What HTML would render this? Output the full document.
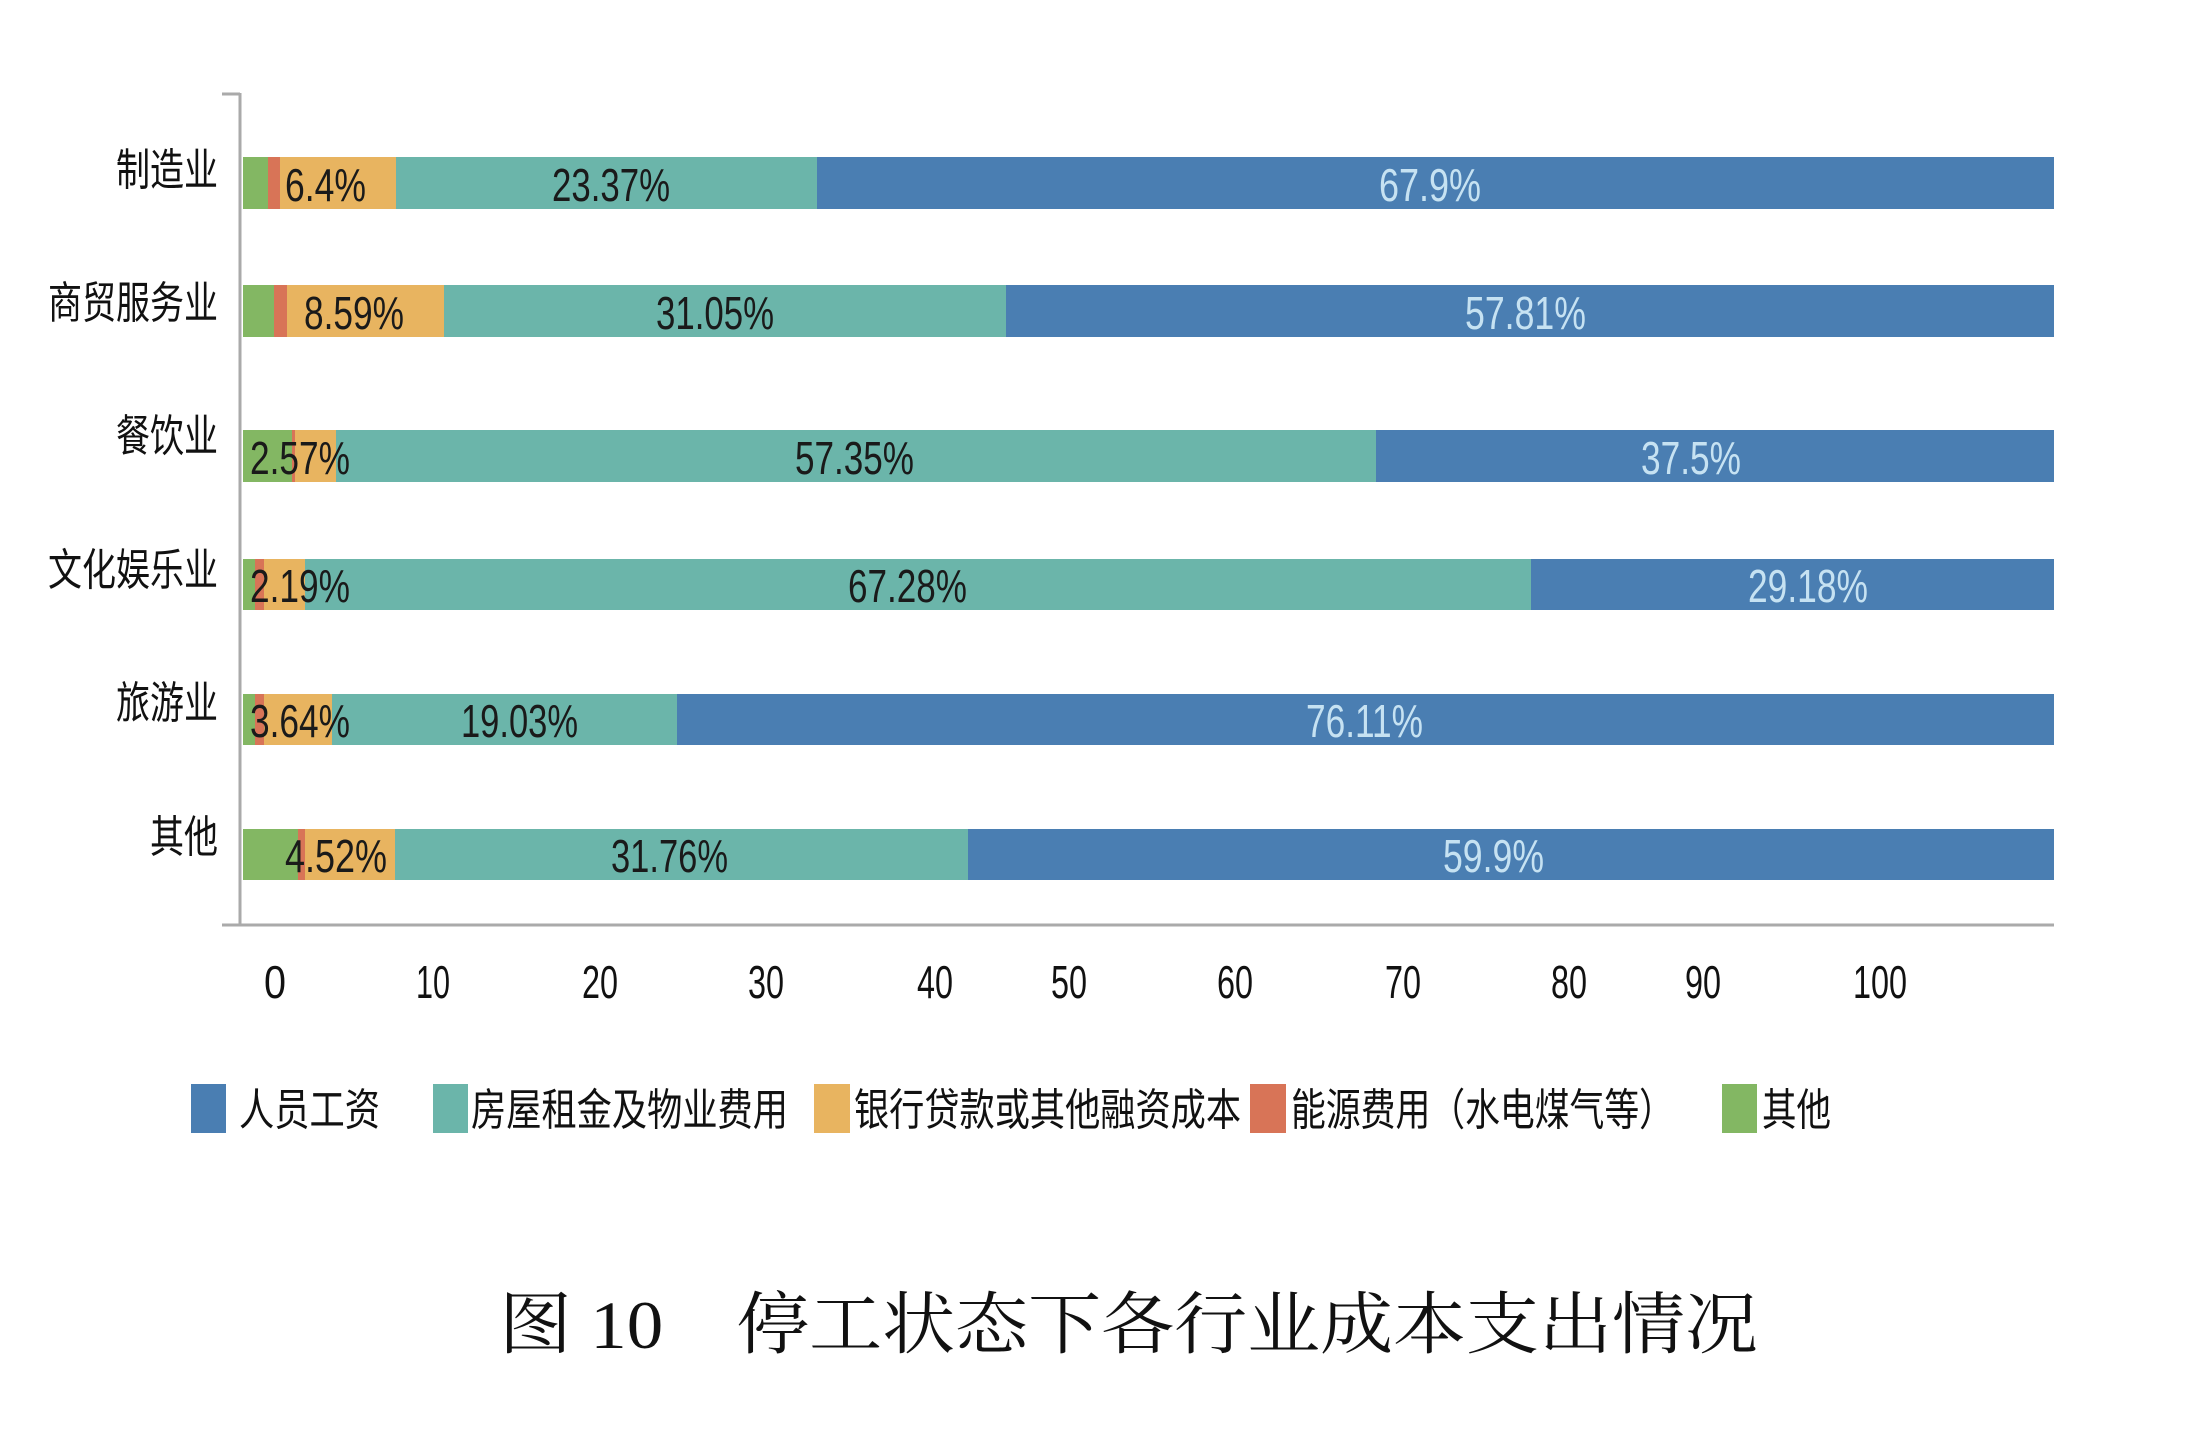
<!DOCTYPE html>
<html><head><meta charset="utf-8"><style>
html,body{margin:0;padding:0;background:#fff}
svg{display:block}
.c{font-family:"Liberation Sans","Noto Sans CJK SC",sans-serif;font-size:44px;fill:#111}
.n{font-family:"Liberation Sans",sans-serif;font-size:46px}
.t{font-family:"Liberation Serif","Noto Serif CJK SC",serif;font-size:68px;fill:#111}
</style></head><body>
<svg width="2206" height="1436" viewBox="0 0 2206 1436" xmlns="http://www.w3.org/2000/svg">
<rect width="2206" height="1436" fill="#fff"/>
<!-- axes -->
<line x1="240" y1="93" x2="240" y2="925" stroke="#aaa" stroke-width="3"/>
<line x1="222" y1="94" x2="240" y2="94" stroke="#aaa" stroke-width="3"/>
<line x1="222" y1="925" x2="2054" y2="925" stroke="#aaa" stroke-width="3"/>
<g>
<!-- row: x positions green,red,orange,teal,blue start -->
<!-- 制造业 -->
<rect x="243" y="157" width="25" height="52" fill="#83b763"/><rect x="268" y="157" width="12" height="52" fill="#d87457"/><rect x="280" y="157" width="116" height="52" fill="#e8b460"/><rect x="396" y="157" width="421" height="52" fill="#6bb5aa"/><rect x="817" y="157" width="1237" height="52" fill="#4a7eb2"/>
<!-- 商贸 -->
<rect x="243" y="285" width="31" height="52" fill="#83b763"/><rect x="274" y="285" width="13" height="52" fill="#d87457"/><rect x="287" y="285" width="157" height="52" fill="#e8b460"/><rect x="444" y="285" width="562" height="52" fill="#6bb5aa"/><rect x="1006" y="285" width="1048" height="52" fill="#4a7eb2"/>
<!-- 餐饮 -->
<rect x="243" y="430" width="49" height="52" fill="#83b763"/><rect x="292" y="430" width="3" height="52" fill="#d87457"/><rect x="295" y="430" width="41" height="52" fill="#e8b460"/><rect x="336" y="430" width="1040" height="52" fill="#6bb5aa"/><rect x="1376" y="430" width="678" height="52" fill="#4a7eb2"/>
<!-- 文化 -->
<rect x="243" y="559" width="12" height="51" fill="#83b763"/><rect x="255" y="559" width="9" height="51" fill="#d87457"/><rect x="264" y="559" width="41" height="51" fill="#e8b460"/><rect x="305" y="559" width="1226" height="51" fill="#6bb5aa"/><rect x="1531" y="559" width="523" height="51" fill="#4a7eb2"/>
<!-- 旅游 -->
<rect x="243" y="694" width="12" height="51" fill="#83b763"/><rect x="255" y="694" width="9" height="51" fill="#d87457"/><rect x="264" y="694" width="68" height="51" fill="#e8b460"/><rect x="332" y="694" width="345" height="51" fill="#6bb5aa"/><rect x="677" y="694" width="1377" height="51" fill="#4a7eb2"/>
<!-- 其他 -->
<rect x="243" y="829" width="55" height="51" fill="#83b763"/><rect x="298" y="829" width="7" height="51" fill="#d87457"/><rect x="305" y="829" width="90" height="51" fill="#e8b460"/><rect x="395" y="829" width="573" height="51" fill="#6bb5aa"/><rect x="968" y="829" width="1086" height="51" fill="#4a7eb2"/>
</g>
<!-- bar labels -->
<g class="n" fill="#1a1a1a">
<text x="285" y="201" textLength="81" lengthAdjust="spacingAndGlyphs">6.4%</text>
<text x="552" y="201" textLength="118" lengthAdjust="spacingAndGlyphs">23.37%</text>
<text x="304" y="329" textLength="100" lengthAdjust="spacingAndGlyphs">8.59%</text>
<text x="656" y="329" textLength="118" lengthAdjust="spacingAndGlyphs">31.05%</text>
<text x="250" y="474" textLength="100" lengthAdjust="spacingAndGlyphs">2.57%</text>
<text x="795" y="474" textLength="119" lengthAdjust="spacingAndGlyphs">57.35%</text>
<text x="250" y="602" textLength="100" lengthAdjust="spacingAndGlyphs">2.19%</text>
<text x="848" y="602" textLength="119" lengthAdjust="spacingAndGlyphs">67.28%</text>
<text x="250" y="737" textLength="100" lengthAdjust="spacingAndGlyphs">3.64%</text>
<text x="461" y="737" textLength="117" lengthAdjust="spacingAndGlyphs">19.03%</text>
<text x="285" y="872" textLength="102" lengthAdjust="spacingAndGlyphs">4.52%</text>
<text x="611" y="872" textLength="117" lengthAdjust="spacingAndGlyphs">31.76%</text>
</g>
<g class="n" fill="#c6e2f2">
<text x="1379" y="201" textLength="102" lengthAdjust="spacingAndGlyphs">67.9%</text>
<text x="1465" y="329" textLength="121" lengthAdjust="spacingAndGlyphs">57.81%</text>
<text x="1641" y="474" textLength="100" lengthAdjust="spacingAndGlyphs">37.5%</text>
<text x="1748" y="602" textLength="120" lengthAdjust="spacingAndGlyphs">29.18%</text>
<text x="1306" y="737" textLength="117" lengthAdjust="spacingAndGlyphs">76.11%</text>
<text x="1443" y="872" textLength="101" lengthAdjust="spacingAndGlyphs">59.9%</text>
</g>
<!-- category labels -->
<g class="c" text-anchor="end">
<text x="218" y="185" textLength="102" lengthAdjust="spacingAndGlyphs">制造业</text>
<text x="218" y="318" textLength="170" lengthAdjust="spacingAndGlyphs">商贸服务业</text>
<text x="218" y="451" textLength="102" lengthAdjust="spacingAndGlyphs">餐饮业</text>
<text x="218" y="585" textLength="170" lengthAdjust="spacingAndGlyphs">文化娱乐业</text>
<text x="218" y="718" textLength="102" lengthAdjust="spacingAndGlyphs">旅游业</text>
<text x="218" y="852" textLength="68" lengthAdjust="spacingAndGlyphs">其他</text>
</g>
<!-- x ticks -->
<g class="n" fill="#111" text-anchor="middle" style="font-size:46px">
<text x="275" y="998" textLength="22" lengthAdjust="spacingAndGlyphs">0</text>
<text x="433" y="998" textLength="34" lengthAdjust="spacingAndGlyphs">10</text>
<text x="600" y="998" textLength="36" lengthAdjust="spacingAndGlyphs">20</text>
<text x="766" y="998" textLength="36" lengthAdjust="spacingAndGlyphs">30</text>
<text x="935" y="998" textLength="36" lengthAdjust="spacingAndGlyphs">40</text>
<text x="1069" y="998" textLength="36" lengthAdjust="spacingAndGlyphs">50</text>
<text x="1235" y="998" textLength="36" lengthAdjust="spacingAndGlyphs">60</text>
<text x="1403" y="998" textLength="36" lengthAdjust="spacingAndGlyphs">70</text>
<text x="1569" y="998" textLength="36" lengthAdjust="spacingAndGlyphs">80</text>
<text x="1703" y="998" textLength="36" lengthAdjust="spacingAndGlyphs">90</text>
<text x="1880" y="998" textLength="54" lengthAdjust="spacingAndGlyphs">100</text>
</g>
<!-- legend -->
<rect x="191" y="1084" width="35" height="49" fill="#4a7eb2"/>
<rect x="433" y="1084" width="35" height="49" fill="#6bb5aa"/>
<rect x="814" y="1084" width="36" height="49" fill="#e8b460"/>
<rect x="1250" y="1084" width="36" height="49" fill="#d87457"/>
<rect x="1722" y="1084" width="35" height="49" fill="#83b763"/>
<g class="c">
<text x="239" y="1125" textLength="141" lengthAdjust="spacingAndGlyphs">人员工资</text>
<text x="471" y="1125" textLength="317" lengthAdjust="spacingAndGlyphs">房屋租金及物业费用</text>
<text x="854" y="1125" textLength="387" lengthAdjust="spacingAndGlyphs">银行贷款或其他融资成本</text>
<text x="1291" y="1125" textLength="383" lengthAdjust="spacingAndGlyphs">能源费用（水电煤气等）</text>
<text x="1762" y="1125" textLength="69" lengthAdjust="spacingAndGlyphs">其他</text>
</g>
<!-- title -->
<text class="t" x="499" y="1348" textLength="1259" lengthAdjust="spacingAndGlyphs">图 10　停工状态下各行业成本支出情况</text>
</svg>
</body></html>
